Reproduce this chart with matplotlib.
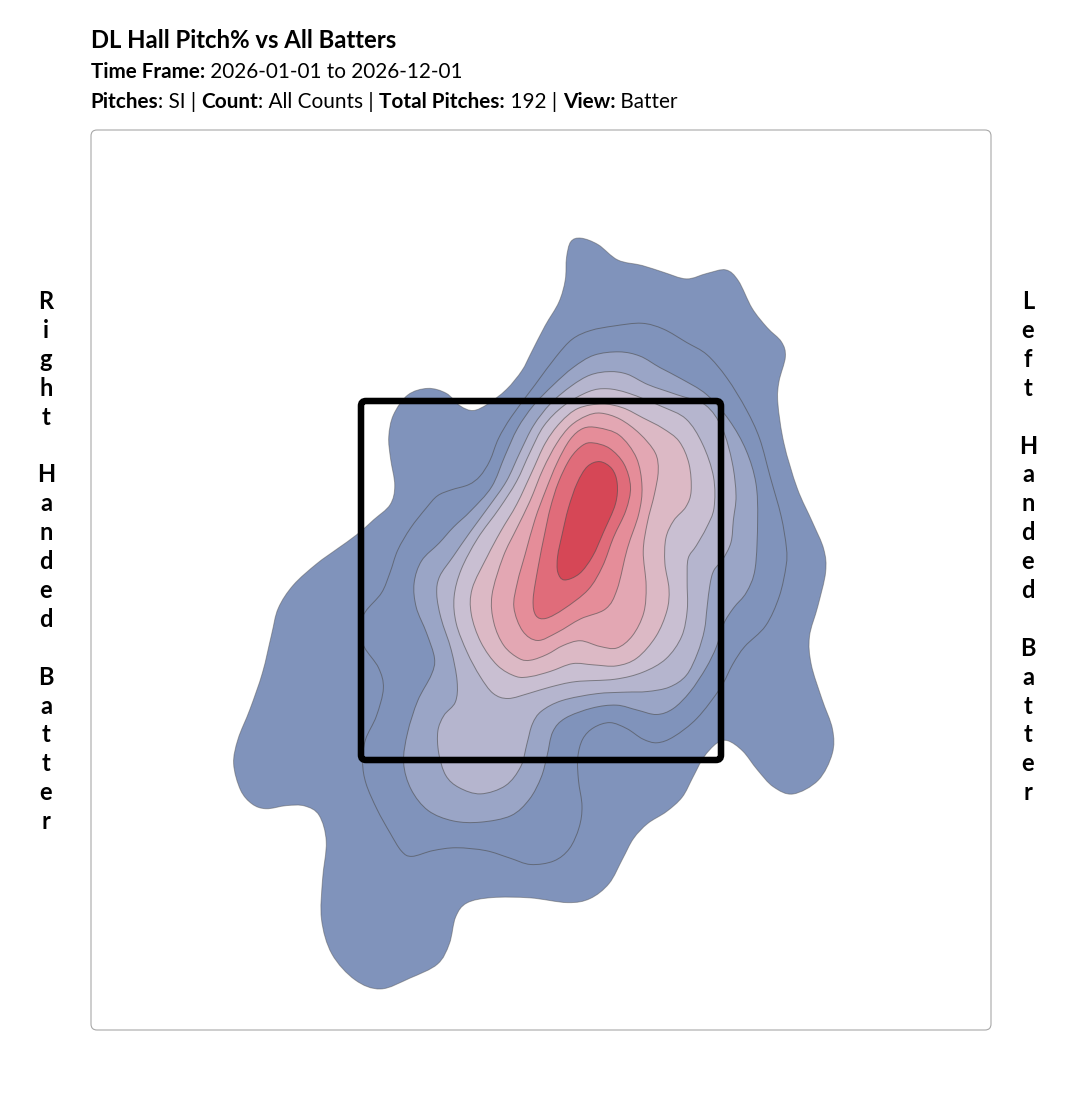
import numpy as np
import matplotlib
matplotlib.use("Agg")
import matplotlib.pyplot as plt
from matplotlib.path import Path
from matplotlib.patches import PathPatch, FancyBboxPatch

plt.rcParams["font.family"] = ["Lato", "Open Sans", "DejaVu Sans"]

# contour outlines, (plate_x, plate_z), 180 units = 1 ft
level_0 = [(39,793),(57,787),(76,768),(102,765),(122,758),(146,749),(166,757),(186,762),(197,752),(211,720),
    (226,702),(242,688),(246,675),(237,647),(236,630),(242,587),(256,540),(272,507),(284,480),(286,460),
    (277,423),(267,393),(269,367),(281,330),(293,300),(293,277),(279,248),(251,233),(232,242),(216,260),
    (202,280),(186,291),(176,288),(162,273),(152,253),(142,232),(126,218),(106,207),(92,192),(82,172),
    (69,145),(49,130),(29,126),(-11,133),(-51,133),(-76,128),(-86,115),(-91,85),(-101,65),(-131,52),
    (-161,38),(-186,48),(-211,75),(-221,110),(-219,150),(-213,190),(-221,217),(-236,225),(-254,225),(-276,220),
    (-289,225),(-301,238),(-309,267),(-304,290),(-291,320),(-278,357),(-269,397),(-264,422),(-249,445),(-224,467),
    (-204,481),(-184,495),(-168,510),(-149,525),(-145,543),(-151,573),(-153,593),(-149,615),(-134,637),(-113,643),
    (-94,638),(-81,623),(-68,618),(-54,625),(-34,640),(-18,660),(-11,675),(4,705),(19,728),(25,750),(25,773),(29,790)]
level_1 = [(102,708),(122,702),(146,687),(166,677),(186,653),(206,620),(219,593),(229,553),(241,513),(246,480),
    (246,467),(239,433),(226,403),(202,383),(192,367),(181,343),(156,310),(132,292),(116,286),(102,290),
    (86,302),(69,309),(52,303),(41,292),(36,273),(37,250),(42,223),(39,203),(29,180),(14,168),
    (-11,164),(-31,172),(-54,180),(-86,183),(-108,180),(-131,172),(-139,177),(-151,197),(-164,220),(-176,247),
    (-179,267),(-177,290),(-164,313),(-156,343),(-161,362),(-178,383),(-184,402),(-177,418),(-158,437),(-151,457),
    (-144,480),(-131,502),(-114,523),(-104,535),(-91,540),(-71,545),(-61,553),(-51,568),(-43,592),(-31,612),
    (-6,645),(16,675),(31,692),(49,700),(72,704)]
level_2 = [(79,679),(99,675),(119,662),(139,652),(166,637),(189,610),(206,580),(216,547),(217,513),(215,457),
    (206,437),(192,422),(182,407),(176,383),(166,363),(149,337),(132,320),(116,314),(96,320),(76,326),
    (52,323),(22,312),(11,300),(6,273),(1,253),(-11,230),(-28,213),(-61,207),(-88,208),(-114,218),
    (-131,240),(-139,267),(-134,297),(-124,330),(-108,357),(-105,370),(-114,397),(-126,423),(-128,447),(-121,470),
    (-101,487),(-88,503),(-71,518),(-48,542),(-36,575),(-24,602),(-8,625),(12,645),(32,663),(52,676)]
level_3 = [(69,659),(86,657),(106,645),(136,635),(166,627),(182,603),(192,567),(196,533),(192,510),(191,487),
    (182,470),(172,460),(169,447),(166,423),(164,400),(157,377),(146,353),(129,342),(106,338),(86,338),
    (56,337),(19,330),(-1,319),(-9,307),(-14,287),(-19,263),(-34,243),(-61,234),(-83,242),(-96,253),
    (-103,277),(-104,300),(-98,315),(-84,327),(-83,347),(-89,380),(-101,413),(-105,437),(-103,453),(-88,473),
    (-71,498),(-51,525),(-34,548),(-21,578),(-8,605),(9,627),(31,645),(49,656)]
level_4 = [(66,642),(86,638),(122,623),(146,613),(162,587),(174,553),(174,520),(166,503),(155,483),(146,473),
    (146,450),(147,420),(142,393),(126,370),(102,357),(76,350),(32,349),(9,343),(-11,337),(-34,330),
    (-48,335),(-61,353),(-74,377),(-86,407),(-88,433),(-81,460),(-64,492),(-41,522),(-24,548),(-11,578),
    (2,605),(22,625),(49,640)]
level_5 = [(62,627),(82,623),(102,612),(122,602),(139,590),(149,567),(151,537),(146,523),(132,510),(124,493),
    (123,467),(129,440),(127,420),(116,393),(96,370),(76,363),(52,365),(32,368),(9,358),(-11,353),
    (-24,352),(-44,363),(-61,387),(-71,417),(-71,440),(-53,475),(-41,498),(-24,525),(-9,558),(4,588),
    (19,608),(36,623)]
level_6 = [(59,618),(79,612),(99,597),(116,577),(118,560),(114,537),(106,507),(101,480),(106,443),(104,417),
    (92,393),(76,380),(59,383),(39,391),(22,385),(6,375),(-11,369),(-21,370),(-38,383),(-48,407),
    (-51,433),(-38,475),(-24,502),(-11,528),(2,562),(16,588),(29,605),(46,615)]
level_7 = [(56,603),(79,597),(97,573),(102,543),(99,517),(86,483),(76,437),(67,420),(39,412),(16,397),
    (-4,387),(-19,397),(-29,423),(-24,447),(-16,475),(-6,512),(4,538),(16,568),(29,592),(42,603)]
level_8 = [(51,588),(69,583),(84,567),(91,543),(86,520),(72,493),(62,463),(49,440),(22,420),(4,410),
    (-6,413),(-9,428),(-3,463),(4,498),(9,522),(17,548),(29,573),(42,586)]
level_9 = [(59,570),(72,562),(77,547),(76,527),(62,497),(52,473),(39,455),(22,448),(16,457),(16,473),
    (21,495),(27,522),(36,548),(46,565)]
levels = [level_0, level_1, level_2, level_3, level_4, level_5, level_6, level_7, level_8, level_9]

level_colors = ["#8093bb", "#8093bb", "#9aa5c6", "#b5b5ce", "#c9bfd2",
                "#dcb9c5", "#e3a7b3", "#e58d99", "#e06c7a", "#d64756"]

title = "DL Hall Pitch% vs All Batters"
time_frame = [("Time Frame:", "bold"), (" 2026-01-01 to 2026-12-01", "normal")]
details = [("Pitches", "bold"), (": SI | ", "normal"), ("Count", "bold"), (": All Counts | ", "normal"),
           ("Total Pitches:", "bold"), (" 192 | ", "normal"), ("View:", "bold"), (" Batter", "normal")]
left_label = "Right Handed Batter"
right_label = "Left Handed Batter"

W, H = 1081, 1102


def smooth_path(points):
    # closed catmull-rom outline as bezier segments, hand-read points evened out a little
    raw = np.array(points, dtype=float)
    pts = (np.roll(raw, 1, axis=0) + 6 * raw + np.roll(raw, -1, axis=0)) / 8
    prev_pts, next_pts = np.roll(pts, 1, axis=0), np.roll(pts, -1, axis=0)
    after_pts = np.roll(pts, -2, axis=0)
    verts = [pts[0]]
    codes = [Path.MOVETO]
    for p0, p1, p2, p3 in zip(prev_pts, pts, next_pts, after_pts):
        verts += [p1 + (p2 - p0) / 6, p2 - (p3 - p1) / 6, p2]
        codes += [Path.CURVE4] * 3
    return Path(verts, codes)


def draw_runs(fig, x_px, base_px, runs, size):
    # text in mixed weights, one piece after the other
    renderer = fig.canvas.get_renderer()
    for text, weight in runs:
        fig.text(x_px / W, 1 - base_px / H, text, fontsize=size, fontweight=weight,
                 ha="left", va="baseline", color="black")
        probe = fig.text(0, 0, text + "|", fontsize=size, fontweight=weight)
        bar = fig.text(0, 0, "|", fontsize=size, fontweight=weight)
        x_px += probe.get_window_extent(renderer).width - bar.get_window_extent(renderer).width
        probe.remove()
        bar.remove()


def draw_side_label(fig, x_px, top_px, label):
    for i, ch in enumerate(label):
        if ch != " ":
            fig.text(x_px / W, 1 - (top_px + i * 28.9) / H, ch, fontsize=17, fontweight="bold",
                     ha="center", va="baseline", color="black")


fig = plt.figure(figsize=(W / 100, H / 100), dpi=100)
ax = fig.add_axes([91 / W, (H - 1030) / H, 900 / W, 900 / H])
ax.set_xlim(-450, 450)
ax.set_ylim(0, 900)
ax.axis("off")

for i, (pts, col) in enumerate(zip(levels, level_colors)):
    edge = (0.3, 0.3, 0.3, 0.45 if i == 0 else 0.6)
    ax.add_patch(PathPatch(smooth_path(pts), facecolor=col, edgecolor=edge, lw=0.7, zorder=2 + i * 0.1))

# strike zone
ax.add_patch(FancyBboxPatch((-180, 270), 360, 359, boxstyle="round,pad=0,rounding_size=5",
                            fill=False, edgecolor="black", lw=4.7, zorder=5))
# panel border
ax.add_patch(FancyBboxPatch((-450, 0), 900, 900, boxstyle="round,pad=0,rounding_size=6",
                            fill=False, edgecolor="#a8a8a8", lw=0.8, zorder=6, clip_on=False))

fig.canvas.draw()
fig.text(91 / W, 1 - 48 / H, title, fontsize=17.2, fontweight="bold", ha="left", va="baseline")
draw_runs(fig, 91, 78, time_frame, 14.9)
draw_runs(fig, 90.5, 108, details, 14.95)
draw_side_label(fig, 46, 309, left_label)
draw_side_label(fig, 1028, 309, right_label)

fig.savefig("out.png", dpi=100)
